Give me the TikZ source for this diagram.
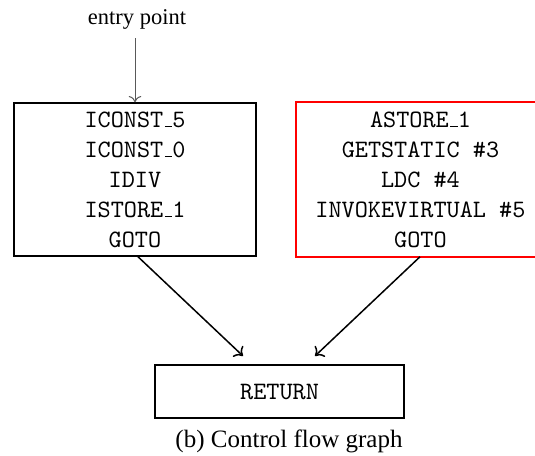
\documentclass[tikz,border=0pt]{standalone}
\usepackage{fontspec}
\setmainfont{Liberation Serif}
\usetikzlibrary{arrows.meta}
% short rule underscore, as in OT1 typewriter text
\newcommand\usc{\leavevmode\kern.06em\vbox{\hrule width.3em}}
\tikzset{
  block/.style={line width=0.8pt, align=center, font=\ttfamily,
    minimum height=60.8pt},
  flow/.style={-{To[length=3pt,width=6pt]}, line width=0.6pt},
  entryarrow/.style={-{To[length=2.5pt,width=5pt]}, line width=0.4pt, draw=black!65},
}
\begin{document}
\begin{tikzpicture}[x=0.4pt,y=-0.4pt]
  \useasboundingbox (0,0) rectangle (535,455);
  \clip (0,0) rectangle (535,455);

  \node[font=\small, anchor=base] (entry) at (137,24) {entry point};

  \node[block, draw, minimum width=96.8pt] (b1) at (135,179.5)
    {ICONST\usc5\\ICONST\usc0\\IDIV\\ISTORE\usc1\\GOTO};
  % the right-hand block runs past the right margin
  \node[block, minimum width=98.8pt] (b2) at (420.5,179.5)
    {ASTORE\usc1\\GETSTATIC \#3\\LDC \#4\\INVOKEVIRTUAL \#5\\GOTO};
  \draw[red, line width=0.8pt] (b2.north east) -- (b2.north west)
    -- (b2.south west) -- (b2.south east);
  \node[draw, line width=0.8pt, font=\ttfamily, minimum width=99.2pt,
    minimum height=21.2pt] (ret) at (279.5,391.5) {RETURN};

  \node[anchor=base] (cap) at (289,447) {(b) Control flow graph};

  \coordinate (entrytop) at (135,38);
  \draw[entryarrow] (entrytop) -- (b1.north);
  \draw[flow] ([xshift=1.2pt]b1.south) -- ([xshift=-14.6pt,yshift=3.2pt]ret.north);
  \draw[flow] ([xshift=-0.2pt]b2.south) -- ([xshift=14.2pt,yshift=3.2pt]ret.north);
\end{tikzpicture}
\end{document}
